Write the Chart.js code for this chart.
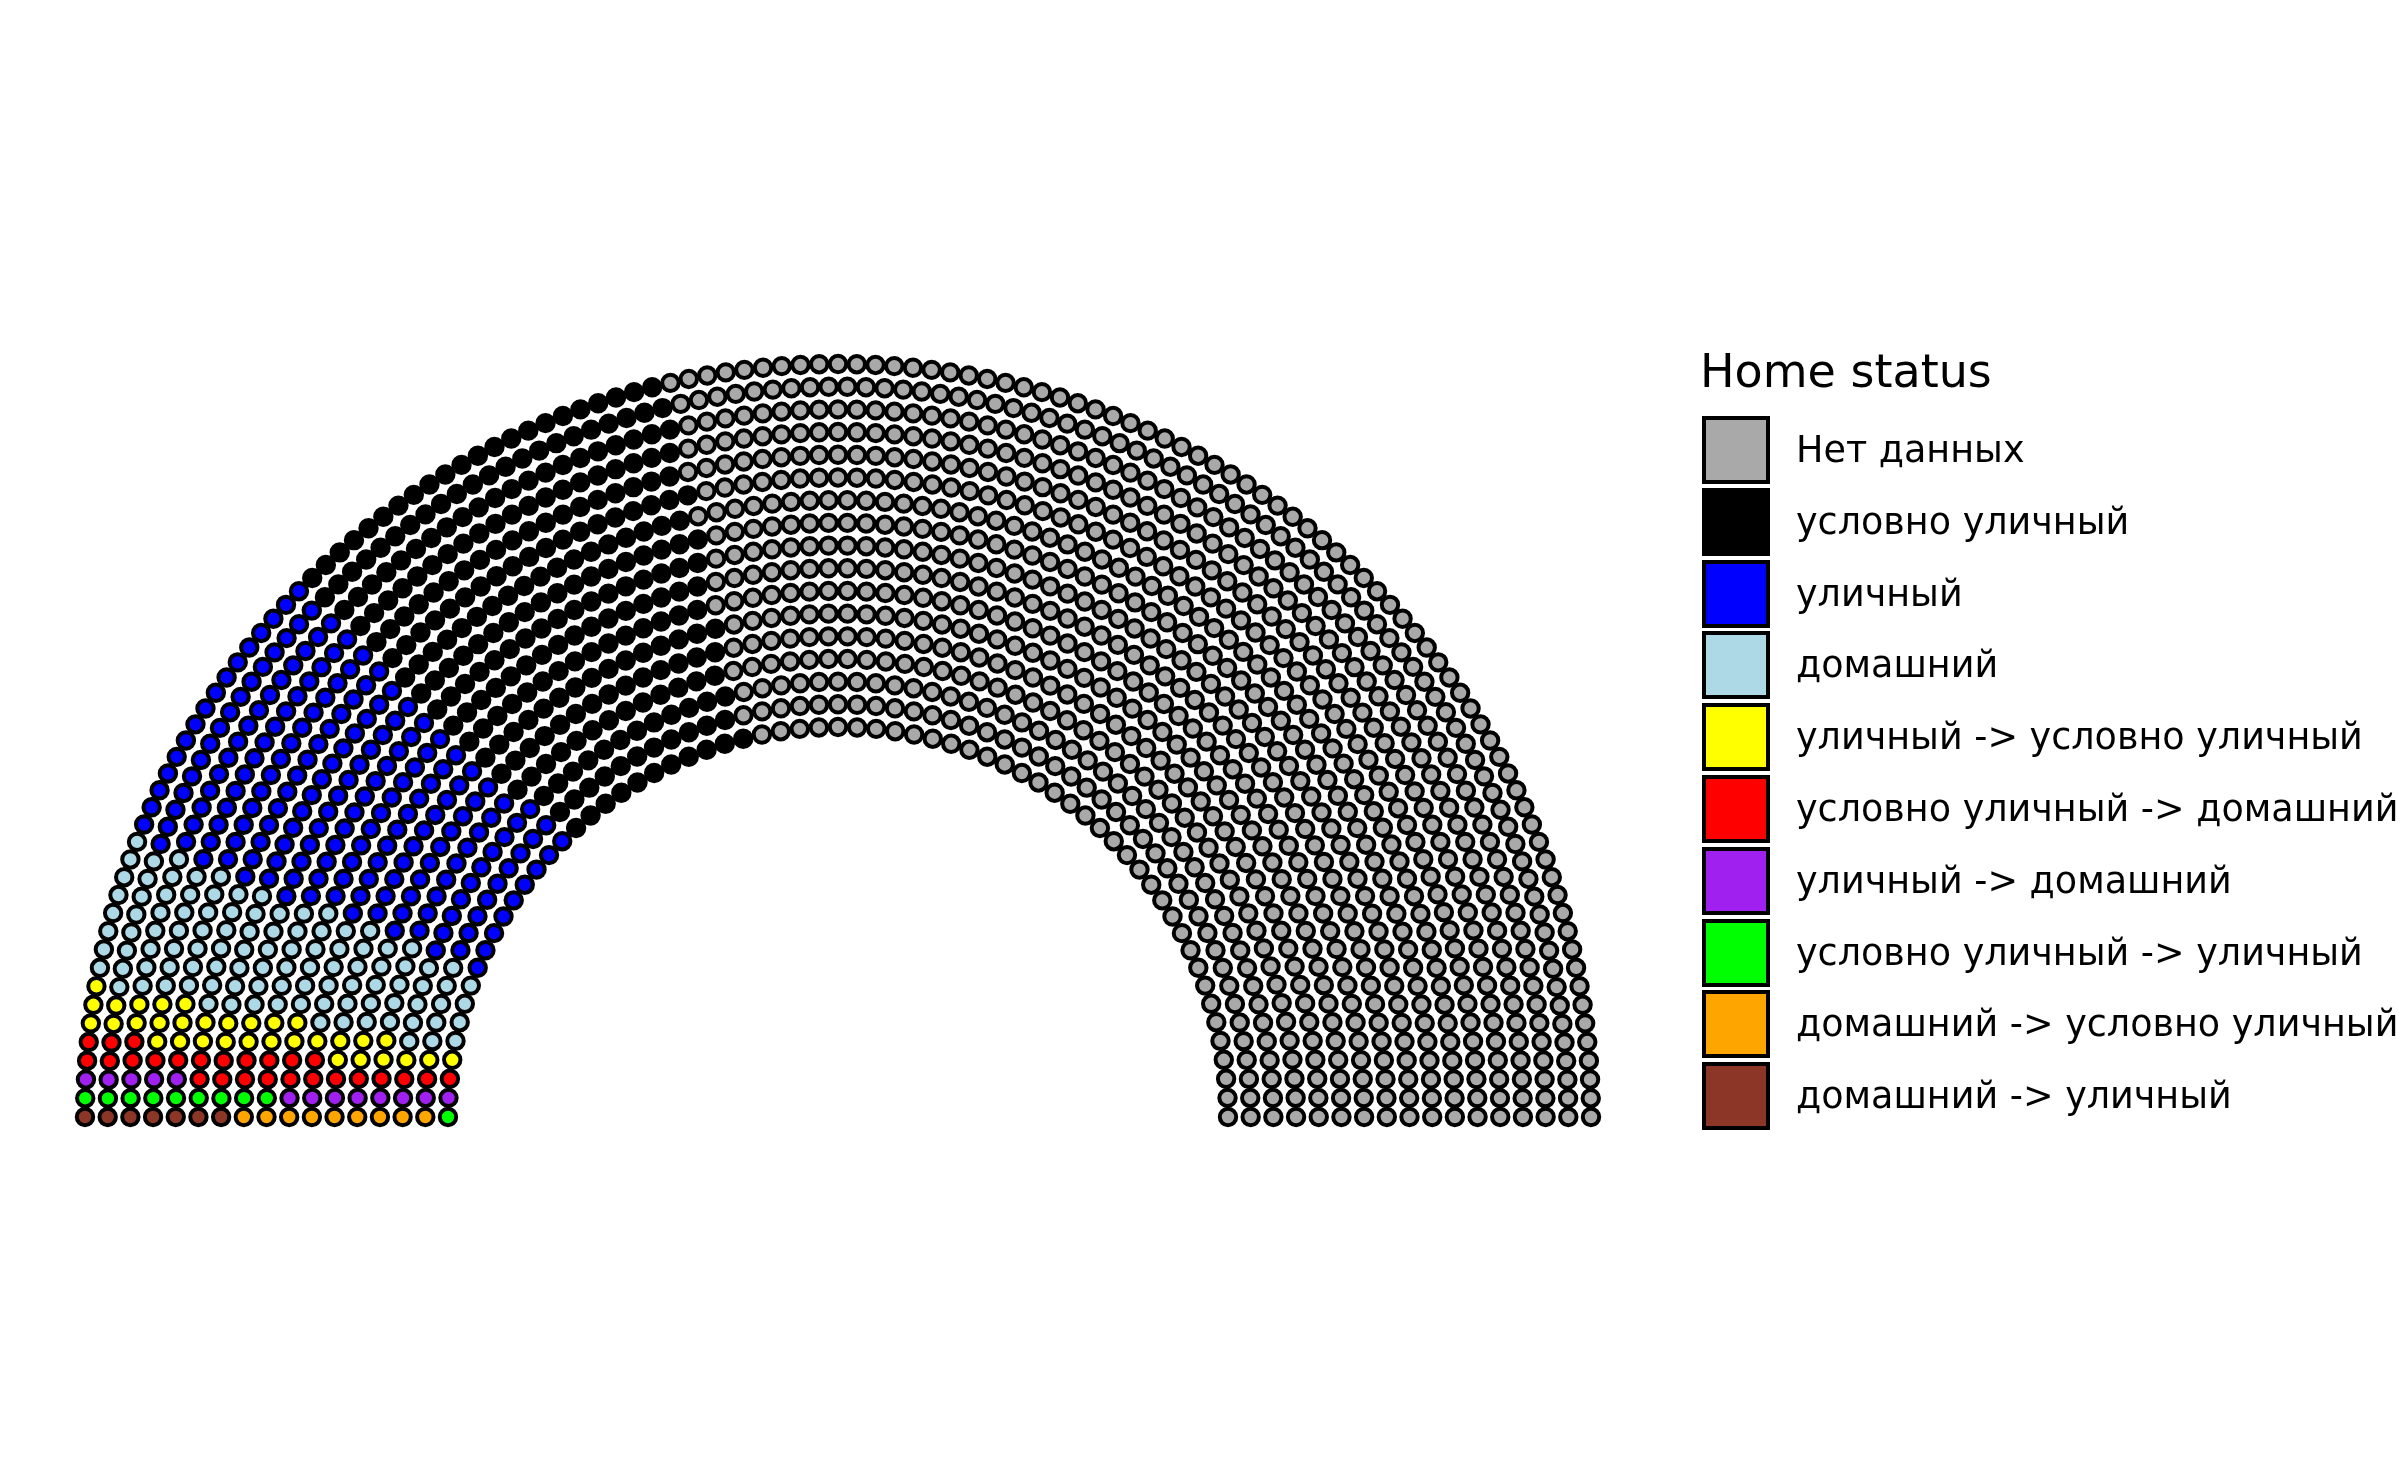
<!DOCTYPE html>
<html>
<head>
<meta charset="utf-8">
<script src="https://cdn.jsdelivr.net/npm/chart.js@4.4.1/dist/chart.umd.min.js"></script>
<style>
html,body{margin:0;padding:0;background:#fff;overflow:hidden;width:2400px;height:1481px}
#wrap{position:relative;width:2400px;height:1481px;overflow:hidden}
#chart{position:absolute;left:0;top:0}
#legend{position:absolute;left:0;top:0;width:2400px;height:1481px;font-family:"DejaVu Sans",sans-serif;color:#000;white-space:nowrap;pointer-events:none}
.ltitle{position:absolute;left:1700px;top:348px;font-size:46px;line-height:46px}
.lbox{position:absolute;left:1702px;width:68px;height:68px;box-sizing:border-box;border:4px solid #000}
.llab{position:absolute;left:1796px;font-size:36.5px;line-height:68px;height:68px}
</style>
</head>
<body>
<div id="wrap">
<canvas id="chart" width="2400" height="1481"></canvas>
<div id="legend"></div>
</div>
<script>
// ---- data ----
const legendTitle = "Home status";
const categories = [
  "Нет данных",
  "условно уличный",
  "уличный",
  "домашний",
  "уличный -> условно уличный",
  "условно уличный -> домашний",
  "уличный -> домашний",
  "условно уличный -> уличный",
  "домашний -> условно уличный",
  "домашний -> уличный"
];
const seats = [936, 283, 207, 106, 33, 26, 13, 10, 9, 7];
const colors = ["#A9A9A9", "#000000", "#0000FF", "#ADD8E6", "#FFFF00",
                "#FF0000", "#A020F0", "#00FF00", "#FFA500", "#8B3626"];
const parlRows = 17;
const innerRowSeats = 65;   // seats counted in the innermost row
const outerRowSeats = 127;  // seats counted in the outermost row

// ---- layout (semicircle parliament) ----
const innerRatio = 390 / 753;           // inner row radius relative to outer row
const W = 2400, H = 1481, CX = 838, CY = 1117, ROUT = 753;

function parliamentLayout(total, rows) {
  const radii = [], weights = [];
  for (let i = 0; i < rows; i++) {
    const f = i / (rows - 1);
    radii.push(innerRatio + f * (1 - innerRatio));
    weights.push(1 + f * (outerRowSeats / innerRowSeats - 1));
  }
  let remaining = total;
  const pts = [];
  for (let i = 0; i < rows; i++) {
    let rest = 0;
    for (let k = i; k < rows; k++) rest += weights[k];
    const c = Math.round(remaining * weights[i] / rest);
    for (let j = 0; j < c; j++) {
      const th = c > 1 ? Math.PI * j / (c - 1) : Math.PI / 2;
      pts.push({row: i, j: j, c: c, x: radii[i] * Math.cos(th), y: radii[i] * Math.sin(th)});
    }
    remaining -= c;
  }
  // order: theta descending (leftmost first), ties -> outer row first
  pts.sort((a, b) => {
    const lhs = b.j * (a.c - 1), rhs = a.j * (b.c - 1);
    if (lhs !== rhs) return lhs - rhs;
    return b.row - a.row;
  });
  return pts;
}

const total = seats.reduce((s, v) => s + v, 0);
const layout = parliamentLayout(total, parlRows);

// parties fill from the left in reverse legend order
const order = categories.map((_, i) => i).reverse();
const buckets = categories.map(() => []);
let idx = 0;
order.forEach(p => {
  for (let k = 0; k < seats[p]; k++) {
    const s = layout[idx++];
    if (s) buckets[p].push({x: s.x, y: s.y});
  }
});

const datasets = order.map(p => ({
  label: categories[p],
  data: buckets[p],
  pointRadius: 8.2,
  pointHoverRadius: 8.2,
  pointBorderWidth: 4,
  pointBackgroundColor: colors[p],
  pointBorderColor: "#000000",
  showLine: false
}));

new Chart(document.getElementById("chart"), {
  type: "scatter",
  data: {datasets},
  options: {
    responsive: false,
    animation: false,
    devicePixelRatio: 1,
    layout: {padding: 0, autoPadding: false},
    plugins: {legend: {display: false}, tooltip: {enabled: false}},
    events: [],
    scales: {
      x: {type: "linear", display: false, min: -CX / ROUT, max: (W - CX) / ROUT},
      y: {type: "linear", display: false, min: -(H - CY) / ROUT, max: CY / ROUT}
    }
  }
});

// ---- legend (HTML text) ----
const lg = document.getElementById("legend");
const t = document.createElement("div");
t.className = "ltitle"; t.textContent = legendTitle; lg.appendChild(t);
categories.forEach((name, i) => {
  const top = 416 + 71.8 * i;
  const b = document.createElement("div");
  b.className = "lbox"; b.style.top = top + "px"; b.style.background = colors[i];
  lg.appendChild(b);
  const l = document.createElement("div");
  l.className = "llab"; l.style.top = top + "px"; l.textContent = name;
  lg.appendChild(l);
});
</script>
</body>
</html>
